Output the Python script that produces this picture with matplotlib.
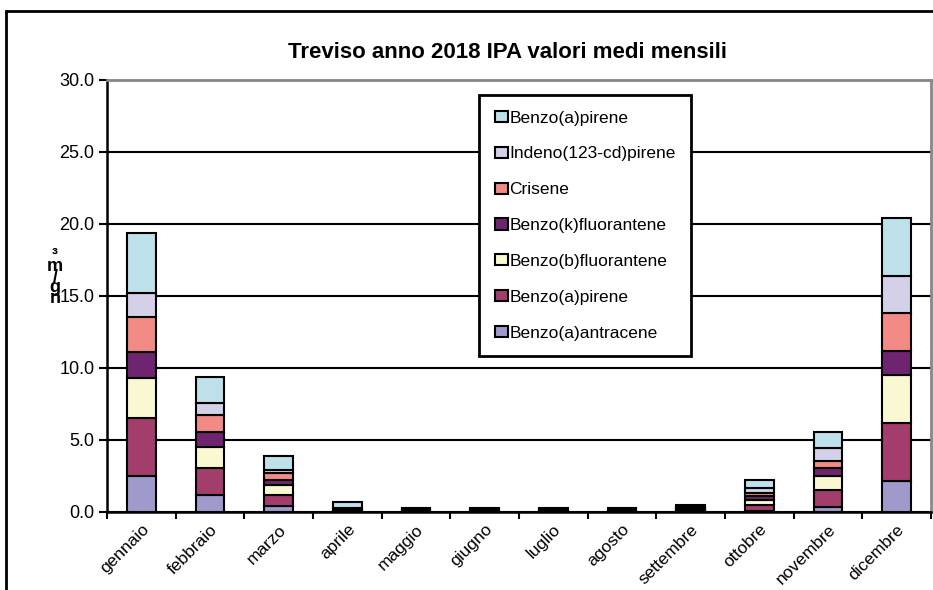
import matplotlib.pyplot as plt
from matplotlib.patches import Rectangle, Patch
import numpy as np

plt.rcParams['font.family'] = ['Liberation Sans', 'DejaVu Sans']

mesi = ['gennaio', 'febbraio', 'marzo', 'aprile', 'maggio', 'giugno',
        'luglio', 'agosto', 'settembre', 'ottobre', 'novembre', 'dicembre']

# ng/m3, stacked bottom to top
benzo_a_antracene = [2.5, 1.18, 0.45, 0.03, 0.03, 0.03, 0.03, 0.03, 0.04, 0.1, 0.37, 2.15]
benzo_a_pirene = [4.0, 1.85, 0.7, 0.06, 0.05, 0.05, 0.04, 0.05, 0.07, 0.4, 1.16, 4.05]
benzo_b_fluorantene = [2.83, 1.5, 0.7, 0.05, 0.04, 0.04, 0.04, 0.04, 0.06, 0.35, 0.99, 3.31]
benzo_k_fluorantene = [1.8, 1.0, 0.4, 0.04, 0.03, 0.03, 0.03, 0.03, 0.04, 0.25, 0.56, 1.69]
crisene = [2.43, 1.21, 0.45, 0.05, 0.04, 0.04, 0.03, 0.04, 0.06, 0.25, 0.48, 2.6]
indeno_pirene = [1.64, 0.81, 0.25, 0.05, 0.04, 0.04, 0.03, 0.04, 0.06, 0.3, 0.86, 2.59]
benzo_a_pirene_2 = [4.2, 1.8, 0.95, 0.42, 0.07, 0.07, 0.05, 0.07, 0.15, 0.6, 1.16, 4.01]

serie = [
    ('Benzo(a)antracene', benzo_a_antracene, '#9e9acb'),
    ('Benzo(a)pirene', benzo_a_pirene, '#a33d6b'),
    ('Benzo(b)fluorantene', benzo_b_fluorantene, '#faf8d2'),
    ('Benzo(k)fluorantene', benzo_k_fluorantene, '#6f2470'),
    ('Crisene', crisene, '#f28a85'),
    ('Indeno(123-cd)pirene', indeno_pirene, '#d3d0e8'),
    ('Benzo(a)pirene', benzo_a_pirene_2, '#bee0ea'),
]

fig = plt.figure(figsize=(9.33, 5.90), dpi=100)
ax = fig.add_axes([107 / 933, 1 - 512 / 590, 824 / 933, 432 / 590])

x = np.arange(len(mesi))
bottom = np.zeros(len(mesi))
handles = []
for nome, valori, colore in serie:
    ax.bar(x, valori, width=0.42, bottom=bottom, color=colore,
           edgecolor='black', linewidth=1.5, zorder=3)
    bottom += np.array(valori)
    handles.append(Patch(facecolor=colore, edgecolor='black', linewidth=1.5, label=nome))

ax.set_xlim(-0.5, len(mesi) - 0.5)
ax.set_ylim(0, 30)
ax.set_yticks(np.arange(0, 30.1, 5))
ax.set_yticklabels([f'{v:.1f}' for v in np.arange(0, 30.1, 5)], fontsize=13)
ax.yaxis.grid(True, color='black', linewidth=1.5, zorder=1)
ax.tick_params(axis='y', direction='out', length=6, width=1.5, pad=3)

ax.set_xticks(x)
ax.set_xticklabels(mesi, rotation=45, ha='right', rotation_mode='anchor', fontsize=12.5)
ax.tick_params(axis='x', which='major', length=0, pad=7)
ax.set_xticks(np.arange(-0.5, len(mesi), 1), minor=True)
ax.tick_params(axis='x', which='minor', direction='out', length=5, width=1.5)

for lato in ['left', 'bottom']:
    ax.spines[lato].set_linewidth(1.8)
    ax.spines[lato].set_color('black')
for lato in ['top', 'right']:
    ax.spines[lato].set_linewidth(2)
    ax.spines[lato].set_color('#888888')

leg = ax.legend(handles=handles[::-1], loc='upper left',
                bbox_to_anchor=((479 - 107) / 824, (512 - 95) / 432),
                fontsize=12.5, frameon=True, fancybox=False, borderpad=0.9,
                labelspacing=1.2, handlelength=0.75, handleheight=0.6,
                handletextpad=0.1, borderaxespad=0)
leg.get_frame().set_edgecolor('black')
leg.get_frame().set_linewidth(2)
leg.get_frame().set_alpha(1)
leg.set_zorder(5)

fig.text(508 / 933, 1 - 52 / 590, 'Treviso anno 2018 IPA valori medi mensili',
         ha='center', va='center', fontsize=16, fontweight='bold')

# unit label drawn as stacked glyphs
fig.text(55 / 933, 1 - 277 / 590, '³\nm\n/\ng\nn', ha='center', va='center',
         fontsize=13, fontweight='bold', linespacing=0.52)

fig.patches.append(Rectangle((6 / 933, -0.2), 1.2, 1.2 - 11 / 590,
                             transform=fig.transFigure, fill=False,
                             edgecolor='black', linewidth=2))

fig.savefig('out.png', dpi=100)
